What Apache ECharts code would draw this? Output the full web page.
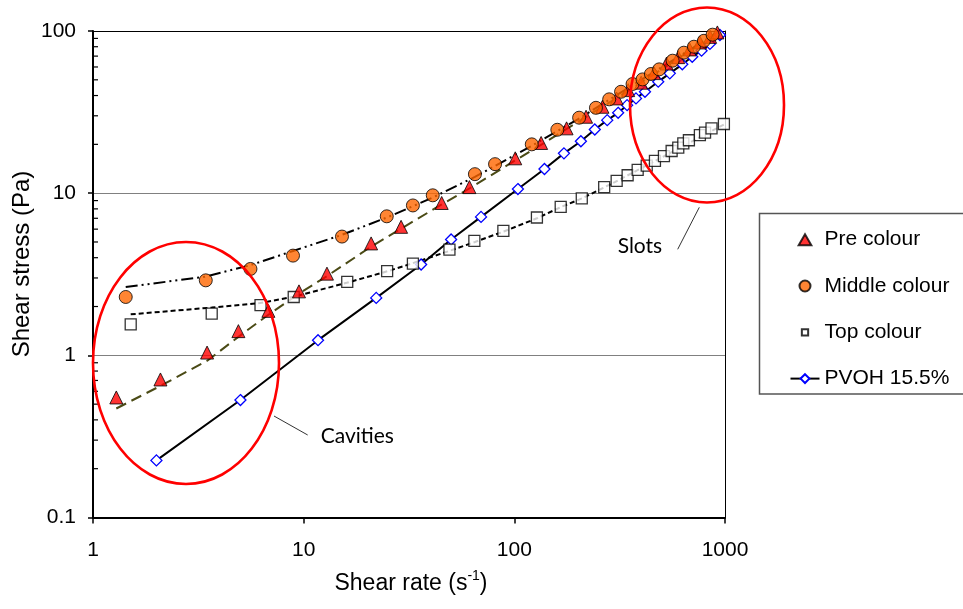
<!DOCTYPE html>
<html><head><meta charset="utf-8">
<script src="https://cdn.jsdelivr.net/npm/echarts@6/dist/echarts.min.js"></script>
<style>html,body{margin:0;padding:0;background:#fff}#c{width:963px;height:609px}</style>
</head><body><div id="c"></div>
<script>
// ---- data (shear rate s^-1, shear stress Pa) ----
const preColour = [[1.29,0.55],[2.09,0.71],[3.48,1.04],[4.9,1.41],[6.8,1.88],[9.5,2.48],[12.9,3.19],[20.9,4.9],[29,6.2],[45.2,8.7],[61.2,10.9],[101,16.4],[134,20.4],[177,25.1],[219,29.6],[262,34.1],[306,38.4],[347,43.2],[400,48],[460,55],[528,63],[600,69],[680,77],[760,85],[850,92],[920,98]];
const middleColour = [[1.43,2.29],[3.43,2.9],[5.59,3.41],[8.9,4.12],[15.2,5.4],[24.8,7.2],[33,8.4],[41,9.7],[65,13.1],[81,15.1],[121,20],[160,24.6],[203,29.2],[244,33.6],[282,37.9],[321,42.2],[364,47.1],[406,50.3],[445,54.3],[487,58],[564,65.6],[638,73.5],[712,80],[794,87],[873,94.9]];
const topColour = [[1.51,1.55],[3.66,1.81],[6.24,2.04],[8.97,2.29],[16.1,2.84],[24.9,3.31],[33,3.68],[49.2,4.49],[64.6,5.08],[88.7,5.85],[128,7.08],[166,8.24],[209,9.28],[267,10.9],[306,11.9],[345,12.9],[385,13.9],[425,14.8],[465,15.8],[513,16.9],[558,18.2],[600,19.1],[634,20.3],[674,21.2],[760,22.8],[804,23.6],[863,25.1],[988,26.7]];
const pvoh = [[2.0,0.225],[5.01,0.53],[11.7,1.24],[22.1,2.26],[36.1,3.63],[50.1,5.18],[69.5,7.14],[104,10.6],[139,14.1],[172,17.6],[207,20.9],[241,24.7],[276,28.2],[311,31.3],[343,34.9],[378,38.4],[417,42.2],[482,48.7],[547,54.8],[627,62.3],[699,69.4],[774,75.6],[848,83.2],[946,94.5]];
// trend lines
const preTrend = [[1.29,0.47],[2.1,0.65],[3.5,0.93],[4.9,1.3],[6.8,1.78],[9.5,2.4],[13,3.1],[21,4.7],[30,6.2],[45,8.5],[62,10.8],[100,15.8],[135,20],[200,27.5],[300,38],[500,58],[900,96]];
const middleTrend = [[1.43,2.64],[3.4,3.05],[5.6,3.6],[8.9,4.4],[15,5.5],[25,7.1],[41,9.4],[65,12.6],[120,19.5],[200,28.5],[400,50],[900,96]];
const topTrend = [[1.51,1.79],[3.66,1.97],[6.2,2.1],[9,2.3],[16,2.8],[25,3.3],[33,3.7],[49,4.4],[65,5.0],[89,5.8],[128,7.0],[166,8.2],[210,9.3],[300,11.7],[500,16.6],[988,26.5]];
const seriesNames = ['Pre colour','Middle colour','Top colour','PVOH 15.5%'];
const yMinorTicks = [0.2,0.3,0.4,0.5,0.6,0.7,0.8,0.9,2,3,4,5,6,7,8,9,20,30,40,50,60,70,80,90];
const xRange = [1, 1000];
const yRange = [0.1, 100];

const FONT = 'Liberation Sans, Arial, sans-serif';
const chart = echarts.init(document.getElementById('c'), null, {renderer:'canvas'});

chart.setOption({
  animation: false,
  backgroundColor: '#fff',
  grid: {left: 93, right: 238, top: 31, bottom: 91.5, containLabel: false},
  xAxis: [{
    type: 'log', logBase: 10, min: xRange[0], max: xRange[1],
    axisLine: {show: true, onZero: false, lineStyle: {color: '#000', width: 2}},
    axisTick: {show: true, length: 6, lineStyle: {color: '#000', width: 1.5}},
    axisLabel: {color: '#000', fontSize: 21, fontFamily: FONT, margin: 22, formatter: v => String(Math.round(v))},
    splitLine: {show: false}, minorTick: {show: false}
  },{
    type: 'log', logBase: 10, min: xRange[0], max: xRange[1], position: 'top',
    axisLine: {show: true, onZero: false, lineStyle: {color: '#000', width: 1}},
    axisTick: {show: false}, axisLabel: {show: false}, splitLine: {show: false}
  }],
  yAxis: [{
    type: 'log', logBase: 10, min: yRange[0], max: yRange[1],
    axisLine: {show: true, onZero: false, lineStyle: {color: '#000', width: 2}},
    axisTick: {show: true, length: 5, lineStyle: {color: '#000', width: 1.5}},
    axisLabel: {color: '#000', fontSize: 21, fontFamily: FONT, margin: 17,
      formatter: v => (v < 1 ? String(+v.toFixed(1)) : String(Math.round(v)))},
    splitLine: {show: true, lineStyle: {color: '#808080', width: 1}}
  },{
    type: 'log', logBase: 10, min: yRange[0], max: yRange[1], position: 'right',
    axisLine: {show: true, onZero: false, lineStyle: {color: '#000', width: 1}},
    axisTick: {show: false}, axisLabel: {show: false}, splitLine: {show: false}
  }],
  legend: {
    data: [
      {name: seriesNames[0], icon: 'path://M6,0L12,10.4L0,10.4Z'},
      {name: seriesNames[1], icon: 'circle'},
      {name: seriesNames[2], icon: 'path://M0,0M14,14M3,3H11V11H3Z'},
      {name: seriesNames[3]}
    ],
    orient: 'vertical', left: 784.5, top: 224.2, symbolKeepAspect: true,
    itemWidth: 29, itemHeight: 11, itemGap: 25.3,
    textStyle: {color: '#000', fontSize: 21, fontFamily: FONT, lineHeight: 20},
    selectedMode: false
  },
  series: [
    {type:'line', name:'preTrend', data: preTrend, showSymbol:false, symbol:'none', silent:true, z:2,
      lineStyle:{color:'#4b4b16', width:2, type:[11,6]}},
    {type:'line', name:'middleTrend', data: middleTrend, showSymbol:false, symbol:'none', silent:true, z:2,
      lineStyle:{color:'#000', width:2, type:[12,4,2,4,2,4]}},
    {type:'line', name:'topTrend', data: topTrend, showSymbol:false, symbol:'none', silent:true, z:2,
      lineStyle:{color:'#000', width:2, type:[5,3]}},
    {type:'line', name: seriesNames[3], data: pvoh, symbol:'diamond', symbolSize:11, showAllSymbol:true, z:3,
      lineStyle:{color:'#000', width:2}, itemStyle:{color:'#fff', borderColor:'#0000ff', borderWidth:1.3}},
    {type:'scatter', name: seriesNames[2], data: topColour, symbol:'rect', symbolSize:11, z:4,
      itemStyle:{color:'#fff', borderColor:'#000', borderWidth:1.3}},
    {type:'scatter', name: seriesNames[0], data: preColour, symbol:'triangle', symbolSize:13, z:5,
      itemStyle:{color:'#ff0000', borderColor:'#000', borderWidth:1}},
    {type:'scatter', name: seriesNames[1], data: middleColour, symbol:'circle', symbolSize:13, z:6,
      itemStyle:{color:'#ff6600', borderColor:'#000', borderWidth:1}},
    {type:'custom', name:'yMinor', silent:true, z:7, clip:false,
      data: yMinorTicks.map(v => [xRange[0], v]),
      renderItem: function(params, api){
        const p = api.coord([api.value(0), api.value(1)]);
        return {type:'line', shape:{x1:p[0], y1:p[1], x2:p[0]+5, y2:p[1]}, style:{stroke:'#000', lineWidth:1.2}};
      }}
  ],
  graphic: [
    {type:'rect', shape:{x:759.5, y:213.5, width:230, height:180.5}, style:{fill:'none', stroke:'#555', lineWidth:1.5}, z:1},
    {type:'ellipse', shape:{cx:186, cy:363, rx:93, ry:121}, style:{fill:'none', stroke:'#ff0000', lineWidth:2.6}, z:50},
    {type:'ellipse', shape:{cx:707, cy:105, rx:77, ry:97.5}, style:{fill:'none', stroke:'#ff0000', lineWidth:2.6}, z:50},
    {type:'line', shape:{x1:274, y1:416, x2:307.7, y2:435}, style:{stroke:'#333', lineWidth:1}, z:50},
    {type:'line', shape:{x1:699.3, y1:207.3, x2:677.7, y2:249.3}, style:{stroke:'#333', lineWidth:1}, z:50},
    {type:'text', x:320.7, y:436.7, style:{text:'Cavities', fill:'#000', font:'21px Lato, "Open Sans", sans-serif', textAlign:'left', textVerticalAlign:'middle'}, z:50},
    {type:'text', x:617.7, y:246.7, style:{text:'Slots', fill:'#000', font:'21px Lato, "Open Sans", sans-serif', textAlign:'left', textVerticalAlign:'middle'}, z:50},
    {type:'text', x:22, y:264, rotation: Math.PI/2,
      style:{text:'Shear stress (Pa)', fill:'#000', font:'24px ' + FONT, textAlign:'center', textVerticalAlign:'middle'}, z:50},
    {type:'text', x:411, y:582,
      style:{text:'{a|Shear rate (s}{b|-1}{a|)}', textAlign:'center', textVerticalAlign:'middle',
        rich:{a:{fontSize:23, fontFamily:FONT, fill:'#000', color:'#000', lineHeight:26, verticalAlign:'bottom'},
              b:{fontSize:14, fontFamily:FONT, fill:'#000', color:'#000', lineHeight:26, verticalAlign:'top', padding:[0,0,10,0]}}}, z:50}
  ]
});
</script></body></html>
